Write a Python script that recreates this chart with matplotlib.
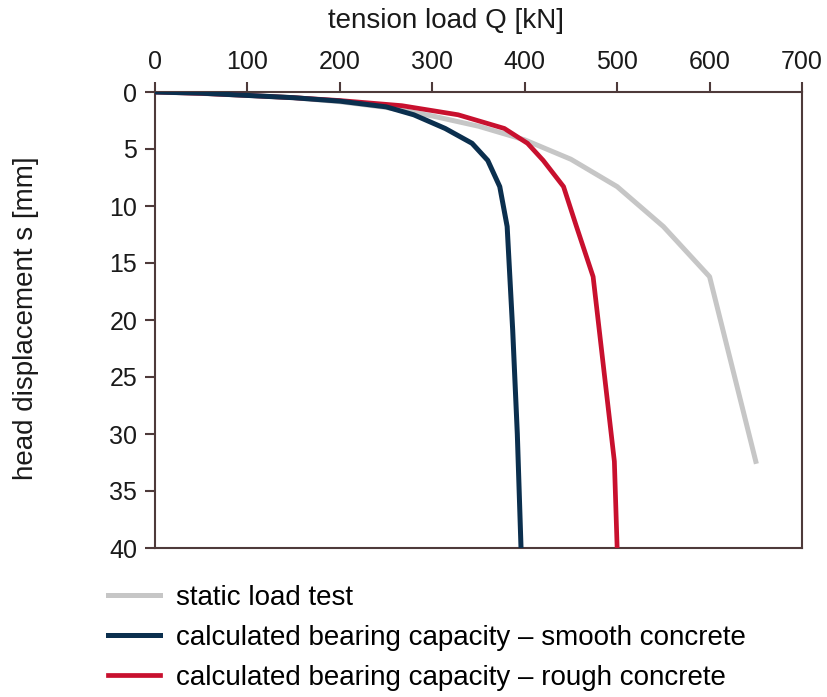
import matplotlib
matplotlib.use("Agg")
import matplotlib.pyplot as plt

plt.rcParams['font.family'] = ['Liberation Sans', 'DejaVu Sans']

# static load test
static_Q = [0, 50, 100, 150, 200, 250, 300, 350, 400, 450, 500, 550, 600, 650]
static_s = [0, 0.12, 0.3, 0.5, 0.85, 1.35, 2.1, 3.0, 4.2, 5.9, 8.3, 11.8, 16.2, 32.4]

# calculated - smooth concrete
smooth_Q = [0, 50, 100, 150, 200, 250, 280, 314, 343, 360, 373, 381, 387, 392, 396]
smooth_s = [0, 0.1, 0.3, 0.5, 0.8, 1.3, 2.0, 3.2, 4.5, 6.0, 8.3, 11.8, 20.9, 30, 40]

# calculated - rough concrete
rough_Q = [0, 50, 100, 150, 200, 267, 328, 378, 403, 420, 442, 456, 474, 497, 500]
rough_s = [0, 0.12, 0.3, 0.5, 0.75, 1.2, 2.0, 3.2, 4.5, 6.0, 8.3, 11.8, 16.2, 32.4, 40]

labels = ["static load test",
          "calculated bearing capacity \u2013 smooth concrete",
          "calculated bearing capacity \u2013 rough concrete"]
colors = ["#c6c6c6", "#0b2f4e", "#c8102e"]

xticks = [0, 100, 200, 300, 400, 500, 600, 700]
yticks = [0, 5, 10, 15, 20, 25, 30, 35, 40]

W, H = 828, 697
fig = plt.figure(figsize=(W/100, H/100), dpi=100)
ax = fig.add_axes([155/W, 1-548/H, (802-155)/W, (548-92)/H])

l1, = ax.plot(static_Q, static_s, color=colors[0], lw=3.6, label=labels[0], zorder=2)
l2, = ax.plot(smooth_Q, smooth_s, color=colors[1], lw=3.6, label=labels[1], zorder=4)
l3, = ax.plot(rough_Q, rough_s, color=colors[2], lw=3.4, label=labels[2], zorder=3)

ax.set_xlim(0, 700)
ax.set_ylim(40, 0)
ax.set_xticks(xticks)
ax.set_yticks(yticks)
ax.xaxis.tick_top()
spine_c = "#4e3a3a"
text_c = "#1a1a1a"
for sp in ax.spines.values():
    sp.set_color(spine_c)
    sp.set_linewidth(1.5)
ax.tick_params(axis='both', which='both', direction='out', length=7.2, width=1.5,
               color=spine_c, labelsize=18, labelcolor=text_c)
ax.tick_params(axis='x', pad=6)
ax.tick_params(axis='y', pad=5.5)

fig.text(446/W, 1-8/H, "tension load Q [kN]", fontsize=20, color=text_c,
         ha='center', va='top')
fig.text(13/W, 1-318/H, "head displacement s [mm]", fontsize=20, color=text_c,
         ha='left', va='center', rotation=90)

fig.legend([l1, l2, l3], labels, loc='upper left', bbox_to_anchor=(108/W, 1-585/H),
           frameon=False, fontsize=20, handlelength=1.87, handletextpad=0.58,
           labelspacing=0.5, borderpad=0, borderaxespad=0)

fig.savefig("out.png", dpi=100)
